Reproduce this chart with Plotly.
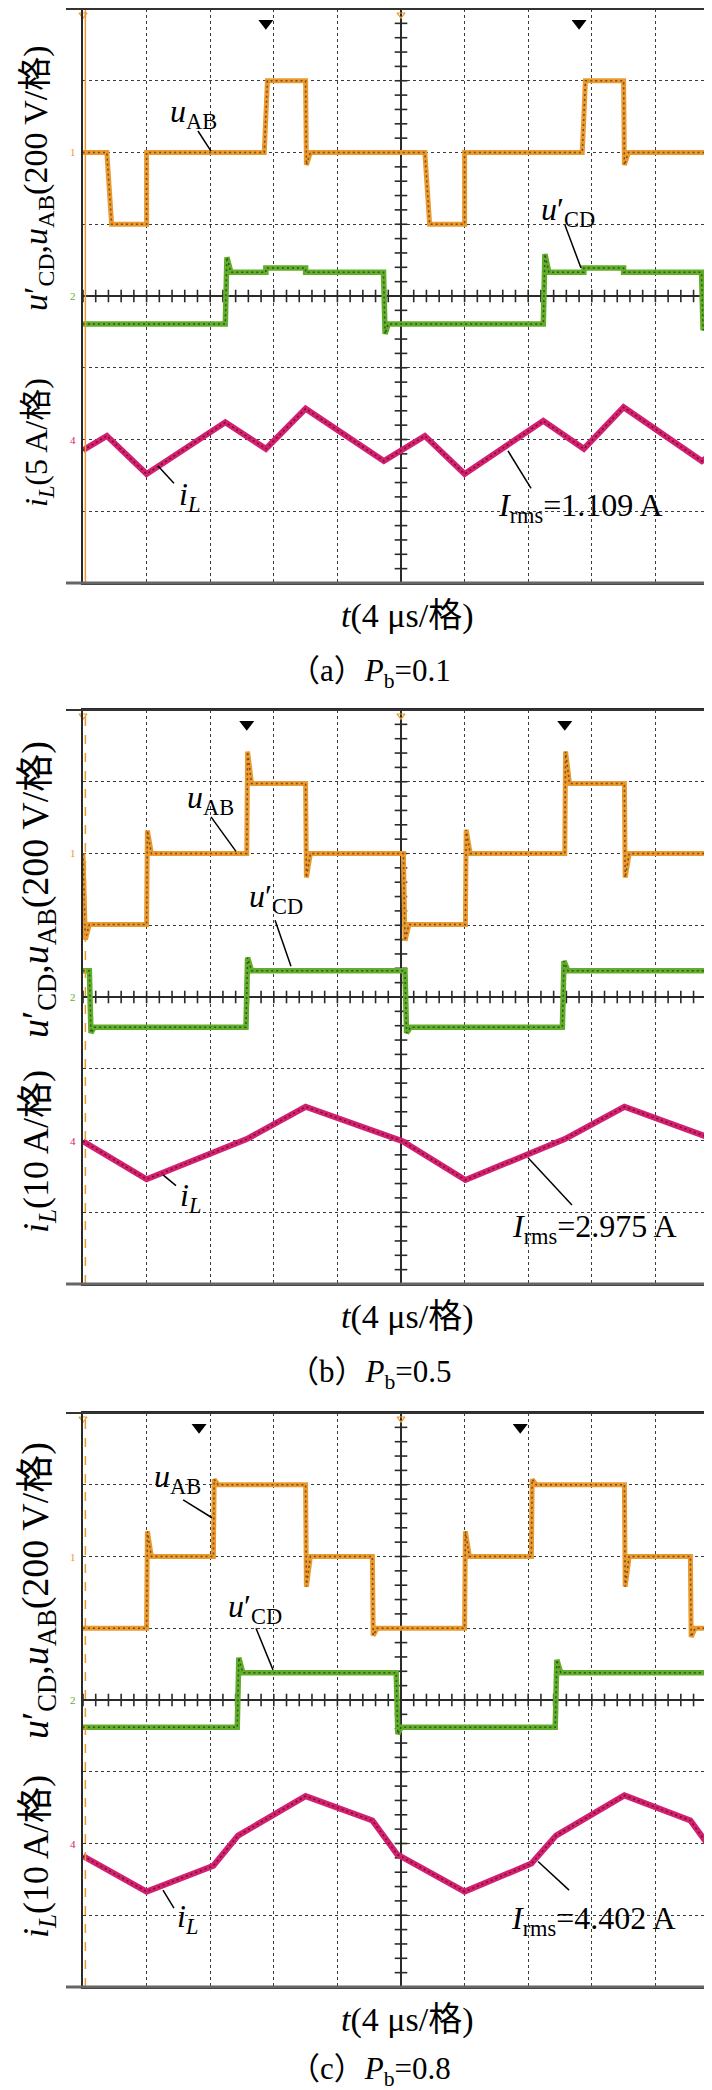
import plotly.graph_objects as go

W, H = 712, 2090
XL, XR = 75, 711          # graticule left/right (px)
FRAME_L = 58              # outer frame left end (px)
TOPS = [1, 702, 1405]     # graticule tops (px)
BOTS = [575, 1276, 1979]  # graticule bottoms (px)
CAP_OFF = [90, 90, 84]    # caption offset below graticule (px)
YLAB_UP_OFF = [169, 180, 178]
YLAB_LO_OFF = [434, 442, 444]
YLAB_UP_SIZE = [34, 38, 38]
YLAB_LO_SIZE = [32, 36, 36]

FONT = "Liberation Serif, 'Noto Sans CJK SC', serif"
ORANGE, ORANGE_D = "#EA9A2E", "#7A4A12"
GREEN, GREEN_D = "#62AE2C", "#2C5A12"
MAGENTA, MAGENTA_D = "#D3206F", "#6E0D38"

# ---------------- data (time in μs, voltage in V, current in A) ----------------
# (a) Pb = 0.1
a_uab_t = [-20, -18.5, -18.2, -16.0, -16.0, -8.6, -8.4, -6.0, -5.95, -5.7, 1.5, 1.8, 4.0, 4.0, 11.4, 11.6, 14.0, 14.05, 14.3, 20]
a_uab_v = [0, 0, -200, -200, 0, 0, 200, 200, -35, 0, 0, -200, -200, 0, 0, 200, 200, -35, 0, 0]
a_ucd_t = [-20, -11.05, -10.95, -10.7, -8.5, -8.5, -6.0, -6.0, -1.1, -1.0, -0.8, 8.95, 9.05, 9.3, 11.5, 11.5, 14.0, 14.0, 18.9, 19.0, 19.2, 20]
a_ucd_v = [-78, -78, 108, 66, 66, 78, 78, 66, 66, -106, -78, -78, 117, 66, 66, 78, 78, 66, 66, -95, -78, -78]
a_il_t = [-20, -18.5, -16.0, -11.05, -8.5, -6.0, -1.08, 1.5, 4.0, 8.95, 11.5, 14.0, 18.92, 20]
a_il_v = [-0.75, 0.25, -2.4, 1.2, -0.65, 2.15, -1.5, 0.25, -2.4, 1.3, -0.65, 2.25, -1.5, -0.7]

# (b) Pb = 0.5
b_uab_t = [-20, -19.85, -19.6, -16.0, -15.95, -15.7, -9.7, -9.65, -9.4, -6.0, -5.95, -5.7, 0.15, 0.25, 0.5, 4.05, 4.1, 4.35, 10.3, 10.35, 10.6, 14.05, 14.1, 14.35, 20]
b_uab_v = [0, -240, -198, -198, 64, 0, 0, 284, 195, 195, -67, 0, 0, -243, -198, -198, 66, 0, 0, 284, 195, 195, -67, 0, 0]
b_ucd_t = [-20, -19.6, -19.5, -19.3, -9.75, -9.65, -9.4, 0.25, 0.35, 0.6, 10.15, 10.25, 10.5, 20]
b_ucd_v = [73, 73, -100, -84, -84, 110, 73, 73, -100, -84, -84, 100, 73, 73]
b_il_t = [-20, -16.0, -9.7, -6.0, 0.1, 4.05, 10.3, 14.05, 20]
b_il_v = [-0.1, -5.4, 0.2, 4.7, -0.1, -5.5, 0.2, 4.7, -0.1]

# (c) Pb = 0.8
c_uab_t = [-20, -16.0, -15.95, -15.7, -11.8, -11.75, -11.5, -6.0, -5.95, -5.7, -1.8, -1.75, -1.5, 4.0, 4.05, 4.3, 8.2, 8.25, 8.5, 14.05, 14.1, 14.35, 18.2, 18.25, 18.5, 20]
c_uab_v = [-200, -200, 70, 0, 0, 215, 200, 200, -84, 0, 0, -220, -200, -200, 70, 0, 0, 215, 200, 200, -84, 0, 0, -224, -200, -200]
c_ucd_t = [-20, -10.3, -10.2, -9.95, -0.3, -0.2, 0.0, 9.7, 9.8, 10.05, 19.7, 19.8, 20]
c_ucd_v = [-76, -76, 118, 76, 76, -95, -76, -76, 112, 76, 76, -95, -76]
c_il_t = [-20, -16.0, -11.8, -10.25, -6.0, -1.8, -0.25, 4.0, 8.2, 9.75, 14.05, 18.2, 19.75, 20]
c_il_v = [-1.75, -6.7, -3.1, 1.1, 6.6, 3.2, -1.5, -6.7, -2.8, 1.1, 6.7, 3.2, -1.5, -1.75]

# scope settings per panel
volt_per_div = [200, 200, 200]
amp_per_div = [5, 10, 10]
uab_zero_div = [2, 2, 2]
ucd_zero_div = [0, 0, 0]
il_zero_div = [-2, -2, -2]
irms_text = ["1.109 A", "2.975 A", "4.402 A"]
il_label = ["5 A/格", "10 A/格", "10 A/格"]
captions = ["（a）", "（b）", "（c）"]
pb_values = ["0.1", "0.5", "0.8"]
trigger_t = [[-8.5, 11.2], [-9.7, 10.3], [-12.7, 7.5]]

# label positions (t μs, y div) : text centre, leader start, leader end
lbl_uab = [((-13.08, 2.55), (-12.77, 2.30), (-11.95, 2.02)),
           ((-12.01, 2.75), (-11.95, 2.51), (-10.38, 2.03)),
           ((-14.03, 3.09), (-13.7, 2.79), (-11.89, 2.54))]
lbl_ucd = [((10.5, 1.18), (10.31, 0.99), (11.32, 0.39)),
           ((-7.86, 1.37), (-7.92, 1.07), (-6.92, 0.43)),
           ((-9.18, 1.28), (-9.12, 1.00), (-8.05, 0.42))]
lbl_il = [((-13.3, -2.79), (-14.28, -2.61), (-15.28, -2.37)),
          ((-13.27, -2.80), (-14.15, -2.63), (-14.97, -2.48)),
          ((-13.4, -3.05), (-14.28, -2.90), (-14.97, -2.65))]
lbl_irms = [((11.26, -2.95), (8.18, -2.68), (6.73, -2.16)),
            ((12.2, -3.22), (10.75, -2.90), (7.99, -2.24)),
            ((12.08, -3.08), (10.57, -2.65), (8.62, -2.25))]

data = [
    (a_uab_t, a_uab_v, a_ucd_t, a_ucd_v, a_il_t, a_il_v),
    (b_uab_t, b_uab_v, b_ucd_t, b_ucd_v, b_il_t, b_il_v),
    (c_uab_t, c_uab_v, c_ucd_t, c_ucd_v, c_il_t, c_il_v),
]

fig = go.Figure()
layout = dict(width=W, height=H, margin=dict(l=0, r=0, t=0, b=0), autosize=False,
              paper_bgcolor="white", plot_bgcolor="white", showlegend=False,
              font=dict(family=FONT, color="black"))
annotations, shapes = [], []

def ax_key(kind, n):
    return f"{kind}axis" + ("" if n == 1 else str(n))

def ax_ref(kind, n):
    return kind + ("" if n == 1 else str(n))

grid_style = dict(showgrid=True, gridcolor="#3a3a3a", griddash="dot", gridwidth=1,
                  zeroline=True, zerolinecolor="#2a2a2a", zerolinewidth=2,
                  showline=True, mirror=True, linecolor="#2a2a2a", linewidth=2,
                  showticklabels=False, ticks="", fixedrange=True)

for p in range(3):
    top, bot = TOPS[p], BOTS[p]
    xn = p + 1
    yb = 4 * p + 1
    xr, ybr = ax_ref("x", xn), ax_ref("y", yb)
    ydom = [1 - bot / H, 1 - top / H]
    layout[ax_key("x", xn)] = dict(domain=[XL / W, XR / W], range=[-20, 20], dtick=4, tick0=0,
                                   anchor=ybr, **grid_style)
    layout[ax_key("y", yb)] = dict(domain=ydom, range=[-4, 4], dtick=1, tick0=0,
                                   anchor=xr, **grid_style)
    vpd, apd = volt_per_div[p], amp_per_div[p]
    ranges = [
        [(-4 - uab_zero_div[p]) * vpd, (4 - uab_zero_div[p]) * vpd],
        [(-4 - ucd_zero_div[p]) * vpd, (4 - ucd_zero_div[p]) * vpd],
        [(-4 - il_zero_div[p]) * apd, (4 - il_zero_div[p]) * apd],
    ]
    for k in range(3):
        layout[ax_key("y", yb + 1 + k)] = dict(domain=ydom, range=ranges[k], overlaying=ybr,
                                               anchor=xr, visible=False, fixedrange=True)

    # graticule ticks along centre lines
    hx = [-20 + 0.8 * k for k in range(51)]
    vy = [-4 + 0.2 * k for k in range(41)]
    fig.add_trace(go.Scatter(x=hx, y=[0] * len(hx), xaxis=xr, yaxis=ybr, mode="markers",
                             marker=dict(symbol="line-ns", size=9, line=dict(width=1.6, color="#2a2a2a")),
                             hoverinfo="skip"))
    fig.add_trace(go.Scatter(x=[0] * len(vy), y=vy, xaxis=xr, yaxis=ybr, mode="markers",
                             marker=dict(symbol="line-ew", size=9, line=dict(width=1.6, color="#2a2a2a")),
                             hoverinfo="skip"))
    # left-edge trace marker line
    shapes.append(dict(type="line", xref=xr, yref=ybr, x0=-19.85, x1=-19.85, y0=-4, y1=4,
                       line=dict(color=ORANGE, width=1.5, dash="solid" if p == 0 else "dash")))
    # trigger markers
    fig.add_trace(go.Scatter(x=trigger_t[p], y=[3.8, 3.8], xaxis=xr, yaxis=ybr, mode="markers",
                             marker=dict(symbol="triangle-down", size=13, color="black"),
                             cliponaxis=False, hoverinfo="skip"))
    fig.add_trace(go.Scatter(x=[-20, 0], y=[3.92, 3.92], xaxis=xr, yaxis=ybr, mode="markers",
                             marker=dict(symbol="triangle-down-open", size=7, color=ORANGE,
                                         line=dict(width=1.2, color=ORANGE)),
                             cliponaxis=False, hoverinfo="skip"))

    uab_t, uab_v, ucd_t, ucd_v, il_t, il_v = data[p]
    sig = [(uab_t, uab_v, yb + 1, ORANGE, ORANGE_D, 5),
           (ucd_t, ucd_v, yb + 2, GREEN, GREEN_D, 5.5),
           (il_t, il_v, yb + 3, MAGENTA, MAGENTA_D, 6)]
    for t, v, yn, c, cd, w in sig:
        fig.add_trace(go.Scatter(x=t, y=v, xaxis=xr, yaxis=ax_ref("y", yn), mode="lines",
                                 line=dict(color=c, width=w), hoverinfo="skip"))
        fig.add_trace(go.Scatter(x=t, y=v, xaxis=xr, yaxis=ax_ref("y", yn), mode="lines",
                                 line=dict(color=cd, width=1.5, dash="2px,3px"), hoverinfo="skip"))

    # channel markers at left of graticule
    for txt, ydiv, c in [("1", uab_zero_div[p], ORANGE), ("2", ucd_zero_div[p], GREEN),
                         ("4", il_zero_div[p], MAGENTA)]:
        annotations.append(dict(text=txt, xref="paper", yref=ybr, x=65 / W, y=ydiv,
                                showarrow=False, font=dict(size=11, color=c, family=FONT),
                                xanchor="center", yanchor="middle"))
        fig.add_trace(go.Scatter(x=[-20.35], y=[ydiv], xaxis=xr, yaxis=ybr, mode="markers",
                                 marker=dict(symbol="triangle-right", size=6, color=c),
                                 cliponaxis=False, hoverinfo="skip"))

    # in-plot labels with leader lines
    texts = ["<i>u</i><sub>AB</sub>", "<i>u</i>′<sub>CD</sub>", "<i>i</i><sub><i>L</i></sub>",
             "<i>I</i><sub>rms</sub>=" + irms_text[p]]
    for txt, (tc, ls, le) in zip(texts, [lbl_uab[p], lbl_ucd[p], lbl_il[p], lbl_irms[p]]):
        annotations.append(dict(text=txt, xref=xr, yref=ybr, x=tc[0], y=tc[1], showarrow=False,
                                font=dict(size=32, family=FONT, color="black"),
                                xanchor="center", yanchor="middle"))
        shapes.append(dict(type="line", xref=xr, yref=ybr, x0=ls[0], y0=ls[1], x1=le[0], y1=le[1],
                           line=dict(color="black", width=1.5)))

    # outer frame extension lines
    shapes.append(dict(type="line", xref="paper", yref="paper", x0=FRAME_L / W, x1=1,
                       y0=1 - top / H, y1=1 - top / H, line=dict(color="#333", width=2)))
    shapes.append(dict(type="line", xref="paper", yref="paper", x0=FRAME_L / W, x1=1,
                       y0=1 - bot / H, y1=1 - bot / H, line=dict(color="#666", width=3)))

    # axis titles
    annotations.append(dict(text="<i>u</i>′<sub>CD</sub>,<i>u</i><sub>AB</sub>(200 V/格)",
                            xref="paper", yref="paper", x=30 / W, y=1 - (top + YLAB_UP_OFF[p]) / H,
                            textangle=-90, showarrow=False,
                            font=dict(size=YLAB_UP_SIZE[p], family=FONT),
                            xanchor="center", yanchor="middle"))
    annotations.append(dict(text="<i>i</i><sub><i>L</i></sub>(" + il_label[p] + ")",
                            xref="paper", yref="paper", x=30 / W, y=1 - (top + YLAB_LO_OFF[p]) / H,
                            textangle=-90, showarrow=False,
                            font=dict(size=YLAB_LO_SIZE[p], family=FONT),
                            xanchor="center", yanchor="middle"))
    annotations.append(dict(text="<i>t</i>(4 μs/格)", xref="paper", yref="paper",
                            x=399 / W, y=1 - (bot + 33) / H, showarrow=False,
                            font=dict(size=34, family=FONT), xanchor="center", yanchor="middle"))
    annotations.append(dict(text=captions[p] + "<i>P</i><sub>b</sub>=" + pb_values[p],
                            xref="paper", yref="paper", x=362 / W, y=1 - (bot + CAP_OFF[p]) / H,
                            showarrow=False, font=dict(size=31, family=FONT),
                            xanchor="center", yanchor="middle"))

layout["annotations"] = annotations
layout["shapes"] = shapes
fig.update_layout(**layout)
fig.update_traces(showlegend=False)
fig.write_html("out.html")
